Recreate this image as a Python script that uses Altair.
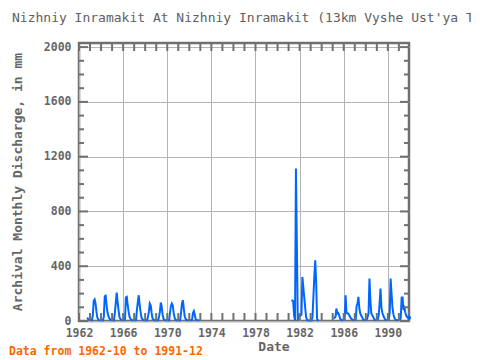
import altair as alt
import pandas as pd

# ---- data (monthly archival discharge, mm), None = missing ----
y1962 = [None, None, None, None, None, None, None, None, None, 25, 12, 8]
y1963 = [6, 5, 5, 40, 147, 157, 128, 66, 25, 11, 6, 5]
y1964 = [5, 4, 5, 30, 181, 185, 115, 62, 35, 20, 10, 6]
y1965 = [5, 4, 5, 60, 130, 208, 140, 79, 30, 15, 8, 6]
y1966 = [5, 5, 8, 172, 176, 115, 66, 30, 15, 8, 6, 5]
y1967 = [5, 5, 6, 79, 140, 188, 115, 66, 25, 12, 7, 5]
y1968 = [5, 4, 5, 30, 66, 128, 115, 59, 20, 10, 6, 5]
y1969 = [5, 4, 5, 30, 66, 135, 105, 44, 15, 8, 6, 5]
y1970 = [5, 4, 5, 60, 110, 128, 115, 59, 25, 11, 6, 5]
y1971 = [5, 4, 5, 60, 128, 152, 91, 35, 15, 8, 6, 5]
y1972 = [5, 5, 5, 10, 59, 72, 44, 11, 8, 6, 5, 4]
y1981 = [None, None, None, 152, 150, 145, 40, 5, 1113, 566, 3, 40]
y1982 = [40, 40, 45, 322, 250, 176, 103, 30, 8, 5, 4, 3]
y1983 = [3, 3, 30, 176, 327, 444, 283, 15, 5, 3, None, None]
y1985 = [None, 18, 25, 30, 91, 55, 59, 42, 18, 10, 6, 5]
y1986 = [8, 10, 188, 60, 55, 55, 42, 30, 18, 12, 8, 6]
y1987 = [6, 8, 110, 130, 176, 91, 55, 40, 28, 12, 8, 6]
y1988 = [10, 10, 30, 60, 310, 150, 55, 42, 30, 15, 8, 6]
y1989 = [8, 8, 40, 128, 237, 100, 60, 40, 25, 12, 8, 6]
y1990 = [8, 10, 60, 310, 200, 100, 50, 25, 12, 8, 6, 5]
y1991 = [8, 8, 20, 171, 171, 80, 95, 60, 40, 25, None, 23]

series = {1962: y1962, 1963: y1963, 1964: y1964, 1965: y1965, 1966: y1966,
          1967: y1967, 1968: y1968, 1969: y1969, 1970: y1970, 1971: y1971,
          1972: y1972, 1981: y1981, 1982: y1982, 1983: y1983, 1985: y1985,
          1986: y1986, 1987: y1987, 1988: y1988, 1989: y1989, 1990: y1990,
          1991: y1991}

year_ticks = list(range(1962, 1992))
y_major = [0, 400, 800, 1200, 1600, 2000]
y_minor = [v for v in range(0, 2001, 100) if v % 400 != 0]

title_text = "Nizhniy Inramakit At Nizhniy Inramakit (13km Vyshe Ust'ya Tyrkana)"
ytitle_text = "Archival Monthly Discharge, in mm"
xtitle_text = "Date"
footer_text = "Data from 1962-10 to 1991-12"

# ---- build table ----
rows = []
for yr in range(1962, 1992):
    vals = series.get(yr, [None] * 12)
    for m, v in enumerate(vals):
        rows.append({"t": yr + m / 12.0, "v": v})
df = pd.DataFrame(rows)
seg = []
s = 0
prev_null = True
for v in df["v"]:
    if v is None or pd.isna(v):
        prev_null = True
        seg.append(-1)
    else:
        if prev_null:
            s += 1
        prev_null = False
        seg.append(s)
df["seg"] = seg
counts = df[df.seg >= 0].groupby("seg").size()
line_df = df[df.seg >= 0].copy()
iso_df = line_df[line_df.seg.map(counts) == 1]

W, H = 330, 278
AX = "#707070"
GRID = "#b4b4b4"
FONT = "DejaVu Sans Mono"

xs = alt.Scale(domain=[1962, 1991 + 11 / 12], nice=False, zero=False)
ys = alt.Scale(domain=[0, 2030], nice=False)

base = alt.Chart(line_df)
line = base.mark_line(color="#0066ff", strokeWidth=2).encode(
    x=alt.X("t:Q", scale=xs, title=None,
            axis=alt.Axis(values=year_ticks, grid=True, gridColor=GRID, gridWidth=1,
                          ticks=False, domain=False, labelPadding=6,
                          labelExpr="(datum.value - 1962) % 4 == 0 ? datum.value : ''",
                          labelFont=FONT, labelFontSize=11.5, labelFontWeight="bold",
                          labelColor="#666666", labelFlush=False, labelOverlap=False)),
    y=alt.Y("v:Q", scale=ys, title=None,
            axis=alt.Axis(values=y_major, grid=True, gridColor=GRID, gridWidth=1,
                          ticks=False, domain=False, labelPadding=8, format="d",
                          labelFont=FONT, labelFontSize=11.5, labelFontWeight="bold",
                          labelColor="#666666")),
    detail="seg:N",
)
iso = alt.Chart(iso_df).mark_circle(color="#0066ff", size=18, opacity=1).encode(
    x=alt.X("t:Q", scale=xs), y=alt.Y("v:Q", scale=ys))

yr_df = pd.DataFrame({"t": year_ticks})
bot_ticks = alt.Chart(yr_df).mark_rule(color=AX, strokeWidth=2).encode(
    x=alt.X("t:Q", scale=xs), y=alt.value(H), y2=alt.value(H - 8))
top_ticks = alt.Chart(yr_df).mark_rule(color=AX, strokeWidth=2).encode(
    x=alt.X("t:Q", scale=xs), y=alt.value(0), y2=alt.value(8))
maj_df = pd.DataFrame({"v": y_major})
min_df = pd.DataFrame({"v": y_minor})
l_maj = alt.Chart(maj_df).mark_rule(color=AX, strokeWidth=2).encode(
    y=alt.Y("v:Q", scale=ys), x=alt.value(0), x2=alt.value(9))
l_min = alt.Chart(min_df).mark_rule(color=AX, strokeWidth=2).encode(
    y=alt.Y("v:Q", scale=ys), x=alt.value(0), x2=alt.value(5))
r_maj = alt.Chart(maj_df).mark_rule(color=AX, strokeWidth=2).encode(
    y=alt.Y("v:Q", scale=ys), x=alt.value(W), x2=alt.value(W - 9))
r_min = alt.Chart(min_df).mark_rule(color=AX, strokeWidth=2).encode(
    y=alt.Y("v:Q", scale=ys), x=alt.value(W), x2=alt.value(W - 5))

def label(text, x, y, size, color, weight="normal", angle=0, align="left"):
    return alt.Chart(pd.DataFrame({"s": [text]})).mark_text(
        font=FONT, fontSize=size, fontWeight=weight, color=color, angle=angle,
        align=align, baseline="middle").encode(
        text="s:N", x=alt.value(x), y=alt.value(y))

t_title = label(title_text, -67, -25, 13, "#606060")
t_ytitle = label(ytitle_text, -61, 139, 13, "#666666", "bold", 270, "center")
t_xtitle = label(xtitle_text, 195, 304, 13, "#666666", "bold", 0, "center")
t_footer = label(footer_text, -70, 309, 11.5, "#ff6600", "bold")

chart = alt.layer(line, iso, bot_ticks, top_ticks, l_maj, l_min, r_maj, r_min,
                  t_title, t_ytitle, t_xtitle, t_footer).properties(
    width=W, height=H,
    autosize=alt.AutoSizeParams(type="none"),
    padding={"left": 71, "top": 35, "right": 62, "bottom": 37},
    background="white",
).configure_view(stroke=AX, strokeWidth=2.5)

chart.save("out.html", embed_options={"renderer": "svg", "actions": False})
